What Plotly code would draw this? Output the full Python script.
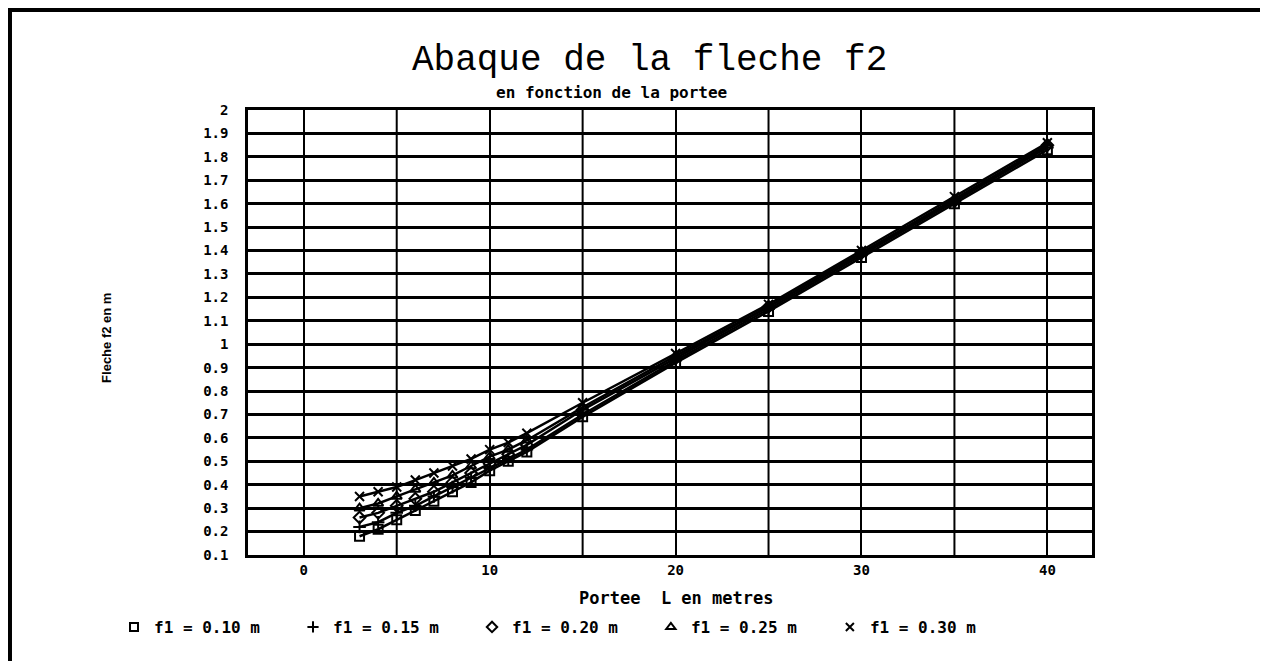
import plotly.graph_objects as go

INK = "#000000"
MONO = "DejaVu Sans Mono"

# portee L (m)
portee = [3, 4, 5, 6, 7, 8, 9, 10, 11, 12, 15, 20, 25, 30, 35, 40]

# fleche f2 (m) for each f1
f2_010 = [0.18, 0.21, 0.25, 0.29, 0.33, 0.37, 0.41, 0.46, 0.50, 0.54, 0.69, 0.92, 1.14, 1.37, 1.60, 1.83]
f2_015 = [0.22, 0.24, 0.28, 0.31, 0.35, 0.39, 0.43, 0.47, 0.51, 0.55, 0.70, 0.93, 1.15, 1.38, 1.61, 1.84]
f2_020 = [0.26, 0.28, 0.31, 0.34, 0.37, 0.41, 0.45, 0.49, 0.53, 0.57, 0.72, 0.94, 1.16, 1.39, 1.61, 1.85]
f2_025 = [0.30, 0.32, 0.35, 0.38, 0.41, 0.44, 0.48, 0.52, 0.55, 0.59, 0.73, 0.95, 1.16, 1.39, 1.62, 1.85]
f2_030 = [0.35, 0.37, 0.39, 0.42, 0.45, 0.48, 0.51, 0.55, 0.58, 0.62, 0.75, 0.96, 1.17, 1.40, 1.63, 1.86]

series_names = ["f1 = 0.10 m", "f1 = 0.15 m", "f1 = 0.20 m", "f1 = 0.25 m", "f1 = 0.30 m"]
series_values = [f2_010, f2_015, f2_020, f2_025, f2_030]
series_symbols = ["square-open", "cross-thin-open", "diamond-open", "triangle-up-open", "x-thin-open"]
# key is one row; split over two legend boxes so plotly doesn't wrap it
series_legend = ["legend", "legend", "legend", "legend2", "legend2"]

x_ticks = [0, 10, 20, 30, 40]
y_ticks = [round(0.1 * i, 1) for i in range(1, 21)]
y_ticklabels = [f"{v:g}" for v in y_ticks]

fig = go.Figure()

for name, vals, sym, leg in zip(series_names, series_values, series_symbols, series_legend):
    fig.add_trace(
        go.Scatter(
            x=portee,
            y=vals,
            mode="lines+markers",
            line=dict(color=INK, width=2.5),
            marker=dict(symbol=sym, size=9, color=INK, line=dict(color=INK, width=2)),
            showlegend=False,
        )
    )
    fig.add_trace(
        go.Scatter(
            x=[None],
            y=[None],
            mode="markers",
            name=name,
            legend=leg,
            marker=dict(symbol=sym, size=8, color=INK, line=dict(color=INK, width=2)),
        )
    )

# page frame
fig.add_shape(
    type="rect", xref="paper", yref="paper",
    x0=-0.282, x1=1.2037, y0=-0.4, y1=1.2247,
    line=dict(color=INK, width=4),
)

fig.add_annotation(
    text="en fonction de la portee", xref="paper", yref="paper",
    x=0.431, y=1.04, xanchor="center", yanchor="middle", showarrow=False,
    font=dict(family=MONO, size=16, color=INK, weight="bold"),
)
fig.add_annotation(
    text="Portee  L en metres", xref="paper", yref="paper",
    x=0.507, y=-0.0966, xanchor="center", yanchor="middle", showarrow=False,
    font=dict(family=MONO, size=17, color=INK, weight="bold"),
)
fig.add_annotation(
    text="Fleche f2 en m", xref="paper", yref="paper",
    x=-0.167, y=0.488, xanchor="center", yanchor="middle", showarrow=False, textangle=-90,
    font=dict(family="Liberation Sans", size=13, color=INK, weight="bold"),
)

legend_style = dict(
    orientation="h",
    xref="container", yref="container",
    xanchor="left", y=0.0635, yanchor="middle",
    entrywidth=134, entrywidthmode="pixels",
    itemwidth=30,
    font=dict(family=MONO, size=16, color=INK, weight="bold"),
    bgcolor="rgba(0,0,0,0)",
)

fig.update_layout(
    width=1268,
    height=661,
    margin=dict(l=240, r=184, t=102, b=114),
    paper_bgcolor="white",
    plot_bgcolor="white",
    font=dict(family=MONO, color=INK),
    title=dict(
        text="Abaque de la fleche f2",
        x=0.506, xanchor="center", y=0.926, yanchor="middle",
        font=dict(family="Liberation Mono", size=36, color=INK),
    ),
    legend=dict(legend_style, x=0.0836),
    legend2=dict(legend_style, x=0.507),
    xaxis=dict(
        range=[-3, 42.4],
        tickvals=x_ticks,
        ticktext=[str(v) for v in x_ticks],
        showgrid=True,
        gridcolor=INK,
        gridwidth=2,
        showline=True,
        linecolor=INK,
        linewidth=2.5,
        mirror=True,
        zeroline=False,
        ticks="",
        ticklabelstandoff=0,
        tickfont=dict(family=MONO, size=14, color=INK, weight="bold"),
    ),
    yaxis=dict(
        range=[0.1, 2.0],
        tickvals=y_ticks,
        ticktext=y_ticklabels,
        showgrid=True,
        gridcolor=INK,
        gridwidth=2.5,
        showline=True,
        linecolor=INK,
        linewidth=2.5,
        mirror=True,
        zeroline=False,
        ticks="",
        ticklabelstandoff=14,
        tickfont=dict(family=MONO, size=14, color=INK, weight="bold"),
    ),
)

# vertical grid every 5 m, labels every 10 m
for xv in range(5, 41, 10):
    fig.add_vline(x=xv, line=dict(color=INK, width=2), layer="below")

fig.write_html("out.html")
